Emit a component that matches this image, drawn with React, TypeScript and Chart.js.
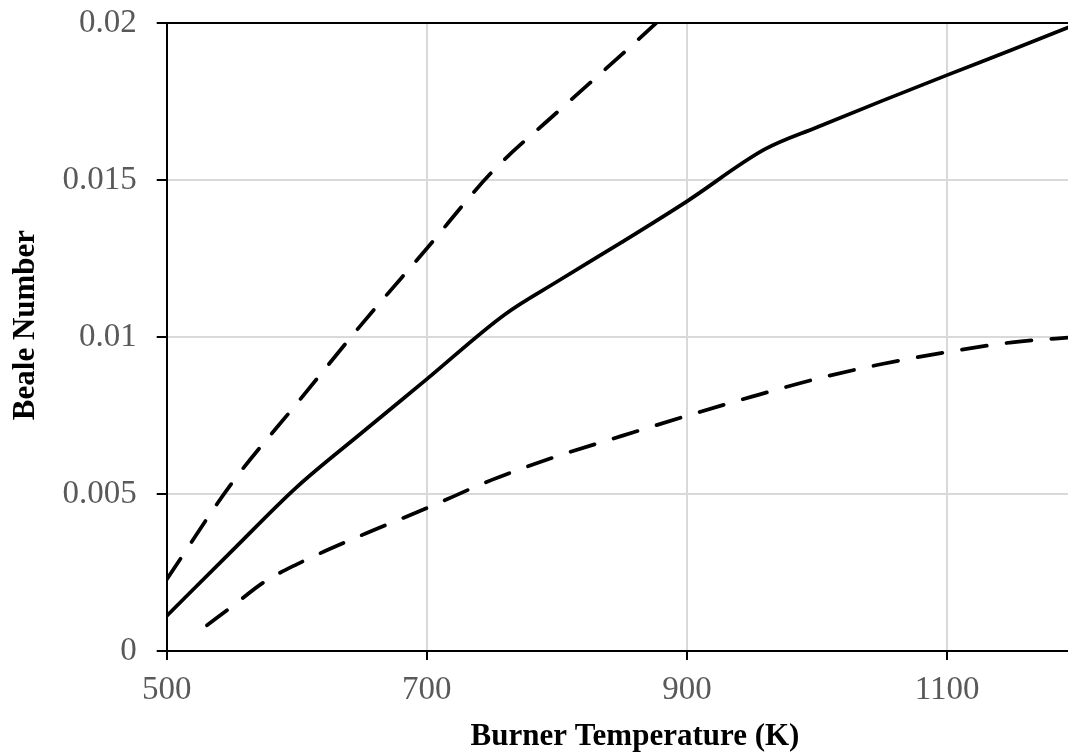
import React, { useEffect, useRef } from 'react';
import { Chart, registerables } from 'chart.js';

Chart.register(...registerables);

// Burner temperature (K) and Beale number values
const solidTemps = [500, 550, 600, 650, 700, 760, 800, 850, 900, 960, 1000, 1050, 1100, 1150, 1200];
const solidBeale = [0.00112, 0.00318, 0.00522, 0.00695, 0.00866, 0.01072, 0.01176, 0.01302, 0.01432, 0.01598, 0.01668, 0.01752, 0.01834, 0.01915, 0.01997];

const upperTemps = [500, 550, 600, 650, 700, 750, 800, 850, 900];
const upperBeale = [0.00228, 0.00534, 0.00788, 0.01041, 0.01282, 0.01525, 0.01715, 0.019, 0.0209];

const lowerTemps = [531, 550, 575, 600, 650, 700, 750, 800, 850, 900, 950, 1000, 1050, 1100, 1150, 1200];
const lowerBeale = [0.00082, 0.00141, 0.0022, 0.00276, 0.00369, 0.00455, 0.00545, 0.0062, 0.00685, 0.00749, 0.0081, 0.00867, 0.00914, 0.00952, 0.00983, 0.01];

const xTicks = [500, 700, 900, 1100];
const yTicks = [0, 0.005, 0.01, 0.015, 0.02];
const yTickLabels = ['0', '0.005', '0.01', '0.015', '0.02'];

const xTitle = 'Burner Temperature (K)';
const yTitle = 'Beale Number';

const FONT = "'Liberation Serif', 'Times New Roman', serif";

const toPoints = (xs: number[], ys: number[]) => xs.map((x, i) => ({ x, y: ys[i] }));

const framePlugin = {
  id: 'frameAndTitles',
  afterDraw(chart: any) {
    const { ctx, chartArea } = chart;
    ctx.save();
    // top border
    ctx.strokeStyle = '#000';
    ctx.lineWidth = 2;
    ctx.beginPath();
    ctx.moveTo(chartArea.left - 1, chartArea.top);
    ctx.lineTo(chartArea.right, chartArea.top);
    ctx.stroke();
    // axis titles
    ctx.fillStyle = '#000';
    ctx.font = `bold 31px ${FONT}`;
    ctx.textAlign = 'center';
    ctx.textBaseline = 'alphabetic';
    ctx.fillText(xTitle, 635, 745);
    ctx.translate(34, 325);
    ctx.rotate(-Math.PI / 2);
    ctx.fillText(yTitle, 0, 0);
    ctx.restore();
  },
};

export default function App() {
  const canvasRef = useRef<HTMLCanvasElement | null>(null);

  useEffect(() => {
    if (!canvasRef.current) return;
    const lineCommon = {
      borderColor: '#000',
      borderWidth: 3.75,
      pointRadius: 0,
      fill: false,
      cubicInterpolationMode: 'monotone',
    };
    const chart = new Chart(canvasRef.current, {
      type: 'line',
      data: {
        datasets: [
          { ...lineCommon, label: 'upper', data: toPoints(upperTemps, upperBeale), borderDash: [25, 20], borderCapStyle: 'round' },
          { ...lineCommon, label: 'mean', data: toPoints(solidTemps, solidBeale) },
          { ...lineCommon, label: 'lower', data: toPoints(lowerTemps, lowerBeale), borderDash: [25, 20], borderCapStyle: 'round' },
        ],
      } as any,
      options: {
        animation: false,
        responsive: false,
        maintainAspectRatio: false,
        layout: { padding: { top: 23, left: 0, right: 0, bottom: 0 } },
        plugins: { legend: { display: false }, tooltip: { enabled: false }, title: { display: false } },
        scales: {
          x: {
            type: 'linear',
            min: 500,
            max: 1193,
            afterBuildTicks: (scale: any) => {
              scale.ticks = xTicks.map((v) => ({ value: v }));
            },
            afterFit: (scale: any) => {
              scale.height = 104;
              scale.paddingLeft = 0;
              scale.paddingRight = 0;
            },
            grid: { color: '#d9d9d9', lineWidth: 2, tickColor: '#000', tickLength: 9, tickWidth: 2 },
            border: { color: '#000', width: 2 },
            ticks: {
              color: '#595959',
              font: { family: FONT, size: 33 },
              padding: 11,
              maxRotation: 0,
              autoSkip: false,
              callback: (v: any) => String(v),
            },
          },
          y: {
            type: 'linear',
            min: 0,
            max: 0.02,
            afterBuildTicks: (scale: any) => {
              scale.ticks = yTicks.map((v) => ({ value: v }));
            },
            afterFit: (scale: any) => {
              scale.width = 166.7;
              scale.paddingTop = 0;
              scale.paddingBottom = 0;
            },
            grid: { color: '#d9d9d9', lineWidth: 2, tickColor: '#000', tickLength: 10, tickWidth: 2 },
            border: { color: '#000', width: 2 },
            ticks: {
              color: '#595959',
              font: { family: FONT, size: 33 },
              padding: 20,
              autoSkip: false,
              callback: (v: any) => {
                const i = yTicks.findIndex((t) => Math.abs(t - Number(v)) < 1e-9);
                return i >= 0 ? yTickLabels[i] : '';
              },
            },
          },
        },
      } as any,
      plugins: [framePlugin],
    });
    return () => chart.destroy();
  }, []);

  return (
    <div style={{ position: 'absolute', left: 0, top: 0, width: 1068, height: 755, background: '#fff', overflow: 'hidden' }}>
      <canvas ref={canvasRef} width={1068} height={755} style={{ display: 'block' }} />
    </div>
  );
}
